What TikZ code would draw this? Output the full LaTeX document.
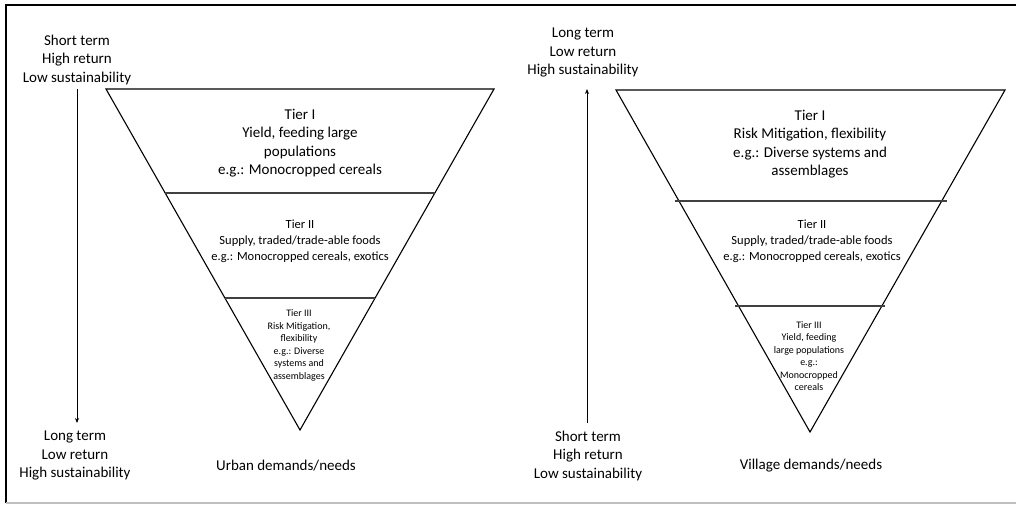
\documentclass[tikz,border=0pt]{standalone}
\usepackage{fontspec}
\setmainfont{Carlito}
\usetikzlibrary{arrows.meta}
\begin{document}
\begin{tikzpicture}[x=1pt,y=-1pt,
  tri/.style={draw=black,line width=1.1pt,line join=miter},
  divider/.style={draw=black!75,line width=1.4pt},
  big/.style={align=center,font=\fontsize{15}{18.5}\selectfont,inner sep=0pt},
  mid/.style={align=center,font=\fontsize{12.5}{16}\selectfont,inner sep=0pt},
  small/.style={align=center,font=\fontsize{10}{12.5}\selectfont,inner sep=0pt},
  axis/.style={draw=black,line width=1pt,-{Stealth[length=5pt,width=4pt]}}]
\useasboundingbox (0,0) rectangle (1016,504);
% frame
\coordinate (FTR) at (1016,5);
\coordinate (FTL) at (6,5);
\coordinate (FBL) at (6,503);
\coordinate (FBR) at (1016,503);
\draw[line width=1.5pt] (FTR) -- (FTL) -- (FBL);
\draw[black!25,line width=1.5pt] (FBL) -- (FBR);
% left triangle
\coordinate (LA) at (106,89);
\coordinate (LB) at (494,89);
\coordinate (LC) at (300,430);
\draw[tri] (LA) -- (LB) -- (LC) -- cycle;
\coordinate (L1a) at (165,193);
\coordinate (L1b) at (435,193);
\coordinate (L2a) at (225,298);
\coordinate (L2b) at (375,298);
\draw[divider] (L1a) -- (L1b);
\draw[divider] (L2a) -- (L2b);
% right triangle
\coordinate (RA) at (616,90);
\coordinate (RB) at (1005,90);
\coordinate (RC) at (810,432);
\draw[tri] (RA) -- (RB) -- (RC) -- cycle;
\coordinate (R1a) at (675,201);
\coordinate (R1b) at (947,201);
\coordinate (R2a) at (735,306);
\coordinate (R2b) at (885,306);
\draw[divider] (R1a) -- (R1b);
\draw[divider] (R2a) -- (R2b);
% left tier texts
\node[big] (lt1) at (300,143) {Tier I\\Yield, feeding large\\populations\\e.g.: Monocropped cereals};
\node[mid] (lt2) at (300,241) {Tier II\\Supply, traded/trade-able foods\\e.g.: Monocropped cereals, exotics};
\node[small] (lt3) at (299,345.5) {Tier III\\Risk Mitigation,\\flexibility\\e.g.: Diverse\\systems and\\assemblages};
% right tier texts
\node[big] (rt1) at (810,144) {Tier I\\Risk Mitigation, flexibility\\e.g.: Diverse systems and\\assemblages};
\node[mid] (rt2) at (812,241) {Tier II\\Supply, traded/trade-able foods\\e.g.: Monocropped cereals, exotics};
\node[small] (rt3) at (809,356) {Tier III\\Yield, feeding\\large populations\\e.g.:\\Monocropped\\cereals};
% side labels
\node[big] (ltop) at (77,59.5) {Short term\\High return\\Low sustainability};
\node[big] (lbot) at (75,455.5) {Long term\\Low return\\High sustainability};
\node[big] (rtop) at (583,52.5) {Long term\\Low return\\High sustainability};
\node[big] (rbot) at (588,455.5) {Short term\\High return\\Low sustainability};
% bottom labels
\node[big] (urban) at (286,466) {Urban demands/needs};
\node[big] (village) at (811,466) {Village demands/needs};
% arrows
\coordinate (la1) at (77,89);
\coordinate (la2) at (77,423);
\coordinate (ra1) at (587,423);
\coordinate (ra2) at (587,89);
\draw[axis] (la1) -- (la2);
\draw[axis] (ra1) -- (ra2);
\end{tikzpicture}
\end{document}
